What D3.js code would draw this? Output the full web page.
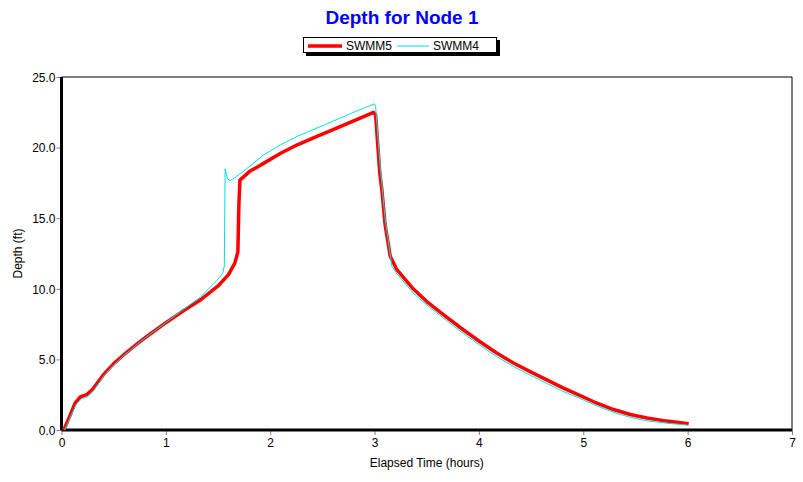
<!DOCTYPE html>
<html>
<head>
<meta charset="utf-8">
<script src="https://cdn.jsdelivr.net/npm/d3@7"></script>
<style>
  body { margin: 0; background: #fff; }
  text { font-family: "Liberation Sans", Arial, sans-serif; }
</style>
</head>
<body>
<svg id="chart"></svg>
<script>
// series: time (hours) and depth (ft)
var swmm5Time  = [0.02, 0.04, 0.08, 0.13, 0.18, 0.24, 0.30, 0.37, 0.40, 0.50, 0.60, 0.70, 0.85, 1.00, 1.15, 1.33, 1.50, 1.60,
                  1.66, 1.69, 1.70, 1.71, 1.80, 1.94, 2.10, 2.26, 2.42, 2.58, 2.80, 2.99, 3.01, 3.05, 3.07, 3.10, 3.15,
                  3.21, 3.37, 3.50, 3.69, 3.85, 4.01, 4.17, 4.33, 4.50, 4.65, 4.80, 4.95, 5.10, 5.29, 5.45, 5.61, 5.80, 6.01];
var swmm5Depth = [0.0, 0.3, 1.0, 1.9, 2.35, 2.5, 2.9, 3.6, 3.9, 4.7, 5.35, 5.95, 6.8, 7.6, 8.35, 9.2, 10.2, 11.0,
                  11.8, 12.6, 16.0, 17.7, 18.3, 18.9, 19.6, 20.2, 20.7, 21.2, 21.9, 22.5, 22.3, 18.2, 17.0, 14.6, 12.3,
                  11.4, 10.0, 9.1, 8.0, 7.1, 6.25, 5.45, 4.75, 4.1, 3.55, 3.0, 2.5, 2.0, 1.45, 1.1, 0.85, 0.63, 0.45];

var swmm4Time  = [0.03, 0.05, 0.09, 0.14, 0.19, 0.25, 0.30, 0.37, 0.40, 0.50, 0.60, 0.70, 0.85, 1.00, 1.15, 1.33, 1.49,
                  1.545, 1.56, 1.568, 1.59, 1.615, 1.74, 1.94, 2.10, 2.26, 2.58, 2.80, 3.00, 3.01, 3.05, 3.10, 3.166,
                  3.21, 3.37, 3.50, 3.69, 3.85, 4.01, 4.17, 4.33, 4.50, 4.65, 4.80, 4.95, 5.10, 5.29, 5.45, 5.61, 5.80, 6.00];
var swmm4Depth = [0.0, 0.3, 1.0, 1.8, 2.2, 2.35, 2.7, 3.45, 3.8, 4.6, 5.3, 5.9, 6.8, 7.6, 8.45, 9.4, 10.6,
                  11.1, 11.6, 18.5, 17.8, 17.65, 18.3, 19.5, 20.2, 20.8, 21.8, 22.5, 23.1, 22.9, 19.0, 15.0, 11.6,
                  11.1, 9.7, 8.85, 7.75, 6.85, 6.0, 5.2, 4.5, 3.85, 3.3, 2.75, 2.3, 1.8, 1.25, 0.9, 0.65, 0.48, 0.35];

var xTicks = [0, 1, 2, 3, 4, 5, 6, 7];
var yTicks = [0, 5, 10, 15, 20, 25];

var W = 803, H = 482;
var margin = {top: 77, right: 11, bottom: 52, left: 61.5};
var width = W - margin.left - margin.right,
    height = H - margin.top - margin.bottom;

var svg = d3.select("#chart").attr("width", W).attr("height", H);

var x = d3.scaleLinear().domain([0, 7]).range([0, width]);
var y = d3.scaleLinear().domain([0, 25]).range([height, 0]);

var g = svg.append("g")
    .attr("transform", "translate(" + margin.left + "," + margin.top + ")");

// title
svg.append("text")
    .attr("x", 402).attr("y", 24)
    .attr("text-anchor", "middle")
    .style("font-size", "19px").style("font-weight", "bold")
    .style("fill", "#0000ff")
    .text("Depth for Node 1");

// legend
var leg = svg.append("g").attr("transform", "translate(303,37)");
leg.append("rect").attr("x", 3).attr("y", 3).attr("width", 194).attr("height", 16).style("fill", "#000");
leg.append("rect").attr("x", 0.5).attr("y", 0.5).attr("width", 193).attr("height", 15)
    .style("fill", "#fff").style("stroke", "#000");
leg.append("line").attr("x1", 5).attr("x2", 39).attr("y1", 9).attr("y2", 9)
    .style("stroke", "#ff0000").style("stroke-width", 3.5);
leg.append("text").attr("x", 43).attr("y", 13).style("font-size", "12px").text("SWMM5");
leg.append("line").attr("x1", 94).attr("x2", 126).attr("y1", 9).attr("y2", 9)
    .style("stroke", "#00e0e0").style("stroke-width", 1);
leg.append("text").attr("x", 130).attr("y", 13).style("font-size", "12px").text("SWMM4");

// frame top / right
g.append("line").attr("x1", 0).attr("x2", width).attr("y1", 0).attr("y2", 0)
    .style("stroke", "#000").style("stroke-width", 1);
g.append("line").attr("x1", width).attr("x2", width).attr("y1", 0).attr("y2", height)
    .style("stroke", "#000").style("stroke-width", 1);

// axes
var xAxis = g.append("g")
    .attr("transform", "translate(0," + height + ")")
    .call(d3.axisBottom(x).tickValues(xTicks).tickFormat(d3.format("d")).tickSize(5).tickPadding(3));
var yAxis = g.append("g")
    .call(d3.axisLeft(y).tickValues(yTicks).tickFormat(d3.format(".1f")).tickSize(5).tickPadding(1));

[xAxis, yAxis].forEach(function(a) {
  a.select(".domain").remove();
  a.selectAll(".tick line").style("stroke", "#808080");
  a.selectAll(".tick text").style("font-size", "12px").style("fill", "#000")
    .style("font-family", "'Liberation Sans', Arial, sans-serif");
});
yAxis.selectAll(".tick text").attr("dy", "0.35em");

g.append("line").attr("x1", 0).attr("x2", width).attr("y1", height).attr("y2", height)
    .style("stroke", "#000").style("stroke-width", 3);
g.append("line").attr("x1", 0).attr("x2", 0).attr("y1", 0).attr("y2", height)
    .style("stroke", "#000").style("stroke-width", 3);

// axis titles
svg.append("text")
    .attr("x", margin.left + width / 2).attr("y", 467)
    .attr("text-anchor", "middle").style("font-size", "12px")
    .text("Elapsed Time (hours)");
svg.append("text")
    .attr("transform", "translate(22," + (margin.top + height / 2) + ") rotate(-90)")
    .attr("text-anchor", "middle").style("font-size", "12px")
    .text("Depth (ft)");

// lines
var line = d3.line()
    .x(function(d) { return x(d[0]); })
    .y(function(d) { return y(d[1]); });

g.append("path")
    .datum(d3.zip(swmm5Time, swmm5Depth))
    .attr("d", line)
    .style("fill", "none").style("stroke", "#ff0000").style("stroke-width", 3.5)
    .style("stroke-linejoin", "round");

g.append("path")
    .datum(d3.zip(swmm4Time, swmm4Depth))
    .attr("d", line)
    .style("fill", "none").style("stroke", "#00e0e0").style("stroke-width", 1);
</script>
</body>
</html>
